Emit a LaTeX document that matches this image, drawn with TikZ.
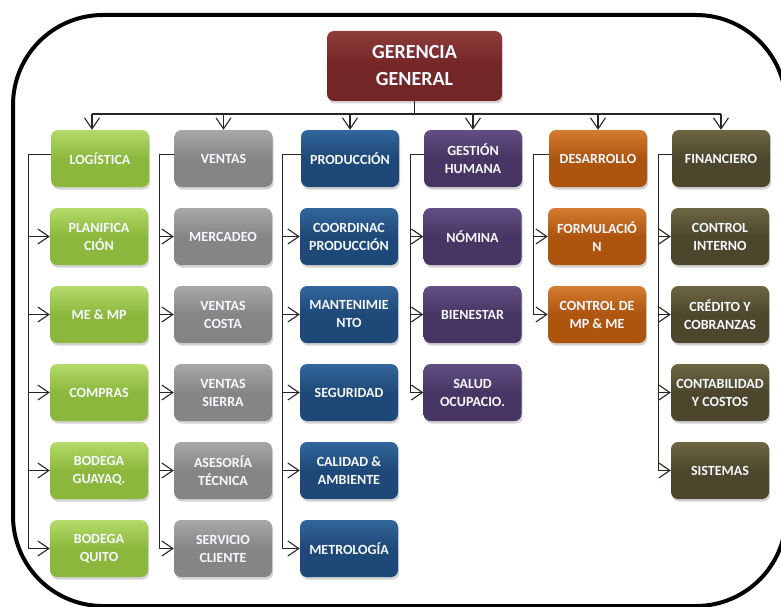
\documentclass[tikz,border=0pt]{standalone}
\usepackage{fontspec}
\setmainfont{Carlito}
\usetikzlibrary{arrows.meta,shadows,calc}

% department palette: light top / darker body
\definecolor{redT}{HTML}{8E3B3B}\definecolor{redB}{HTML}{732626}
\definecolor{grnT}{HTML}{B4DA69}\definecolor{grnB}{HTML}{8BB83C}
\definecolor{gryT}{HTML}{A8A8A8}\definecolor{gryB}{HTML}{858585}
\definecolor{bluT}{HTML}{33669C}\definecolor{bluB}{HTML}{1E4877}
\definecolor{purT}{HTML}{634F84}\definecolor{purB}{HTML}{473563}
\definecolor{orgT}{HTML}{D47C30}\definecolor{orgB}{HTML}{AD540E}
\definecolor{olvT}{HTML}{6D6643}\definecolor{olvB}{HTML}{4C472C}
\definecolor{txt}{HTML}{F6F9FF}

\begin{document}
\begin{tikzpicture}[x=1pt,y=-1pt,
  unit/.style={rounded corners=7pt, minimum width=98pt, minimum height=57pt,
    inner sep=1pt, align=center, text=txt,
    font=\fontsize{14}{18}\selectfont\bfseries,
    drop shadow={shadow xshift=1.2pt, shadow yshift=-2.5pt, opacity=0.35}},
  boss/.style={unit, minimum width=175pt, minimum height=70pt,
    font=\fontsize{20}{27}\selectfont\bfseries,
    top color=redT, bottom color=redB, middle color=redB},
  grn/.style={unit, top color=grnT, bottom color=grnB, middle color=grnB},
  gry/.style={unit, top color=gryT, bottom color=gryB, middle color=gryB},
  blu/.style={unit, top color=bluT, bottom color=bluB, middle color=bluB},
  pur/.style={unit, top color=purT, bottom color=purB, middle color=purB},
  org/.style={unit, top color=orgT, bottom color=orgB, middle color=orgB},
  olv/.style={unit, top color=olvT, bottom color=olvB, middle color=olvB},
  wire/.style={line width=1.1pt, draw=black!85},
  link/.style={wire, -{Straight Barb[length=11pt,width=15pt,line width=1.1pt]}},
]
\useasboundingbox (0,0) rectangle (781,607);

% outer frame
\draw[line width=4pt, rounded corners=90pt] (13,15) rectangle (786,606);

% top of the chart
\node[boss] (ger) at (414.5,66) {GERENCIA\\GENERAL};

% department heads
\node[grn] (log) at (100,158.5) {LOGÍSTICA};
\node[gry] (ven) at (223.5,158.5) {VENTAS};
\node[blu] (pro) at (350,158.5) {PRODUCCIÓN};
\node[pur] (ges) at (473,158.5) {GESTIÓN\\HUMANA};
\node[org] (des) at (598,158.5) {DESARROLLO};
\node[olv] (fin) at (721,158.5) {FINANCIERO};

% logística
\node[grn] (log1) at (99,236.5) {PLANIFICA\\CIÓN};
\node[grn] (log2) at (99,314.5) {ME \& MP};
\node[grn] (log3) at (99,392.5) {COMPRAS};
\node[grn] (log4) at (99,470.5) {BODEGA\\GUAYAQ.};
\node[grn] (log5) at (99,548.5) {BODEGA\\QUITO};

% ventas
\node[gry] (ven1) at (223,236.5) {MERCADEO};
\node[gry] (ven2) at (223,314.5) {VENTAS\\COSTA};
\node[gry] (ven3) at (223,392.5) {VENTAS\\SIERRA};
\node[gry] (ven4) at (223,470.5) {ASESORÍA\\TÉCNICA};
\node[gry] (ven5) at (223,548.5) {SERVICIO\\CLIENTE};

% producción
\node[blu] (pro1) at (349,236.5) {COORDINAC\\PRODUCCIÓN};
\node[blu] (pro2) at (349,314.5) {MANTENIMIE\\NTO};
\node[blu] (pro3) at (349,392.5) {SEGURIDAD};
\node[blu] (pro4) at (349,470.5) {CALIDAD \&\\AMBIENTE};
\node[blu] (pro5) at (349,548.5) {METROLOGÍA};

% gestión humana
\node[pur] (ges1) at (472.5,236.5) {NÓMINA};
\node[pur] (ges2) at (472.5,314.5) {BIENESTAR};
\node[pur] (ges3) at (472.5,392.5) {SALUD\\OCUPACIO.};

% desarrollo
\node[org] (des1) at (597,236.5) {FORMULACIÓ\\N};
\node[org] (des2) at (597,314.5) {CONTROL DE\\MP \& ME};

% financiero
\node[olv] (fin1) at (720,236.5) {CONTROL\\INTERNO};
\node[olv] (fin2) at (720,314.5) {CRÉDITO Y\\COBRANZAS};
\node[olv] (fin3) at (720,392.5) {CONTABILIDAD\\Y COSTOS};
\node[olv] (fin4) at (720,470.5) {SISTEMAS};

% bus from the general management to every head
\coordinate (bus) at (0,114);
\draw[wire] (ger.south) -- (ger.south |- bus);
\draw[wire] ([xshift=-8pt]log.north |- bus) -- (fin.north |- bus);
\draw[link] ([xshift=-8pt]log.north |- bus) -- ([xshift=-8pt]log.north);
\foreach \h in {ven,pro,ges,des,fin}
  \draw[link] (\h.north |- bus) -- (\h.north);

% elbow links from each head down to its units
\foreach \h/\o/\n in {log/22/5, ven/14.5/5, pro/18/5, ges/13/3, des/15/2, fin/13/4}
  \foreach \k in {1,...,\n}
    \draw[link] ([yshift=4pt]\h.west) -- ++(-\o,0) |- (\h\k.west);
\end{tikzpicture}
\end{document}
